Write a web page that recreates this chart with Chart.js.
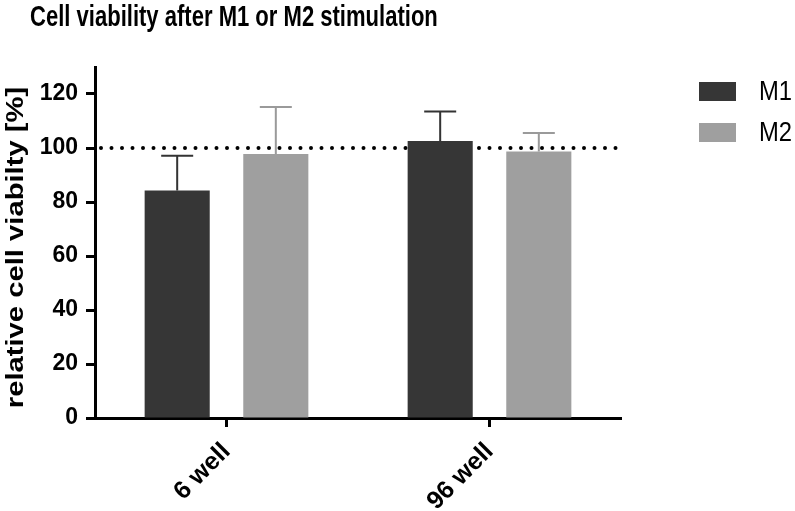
<!DOCTYPE html>
<html>
<head>
<meta charset="utf-8">
<script src="https://cdn.jsdelivr.net/npm/chart.js@4.4.1/dist/chart.umd.min.js"></script>
<style>
  body { margin: 0; background: #fff; }
  canvas { display: block; }
</style>
</head>
<body>
<canvas id="chart1" width="795" height="511"></canvas>
<script>
var categories = ['6 well', '96 well'];
var seriesNames = ['M1', 'M2'];
var m1Values = [84.3, 102.6];
var m1Errors = [12.8, 10.9];
var m2Values = [97.8, 98.7];
var m2Errors = [17.4, 6.9];
var yTicks = [0, 20, 40, 60, 80, 100, 120];
var referenceLine = 100;
var yTitle = 'relative cell viabilty [%]';
var chartTitle = 'Cell viability after M1 or M2 stimulation';

var font = '"Liberation Sans", Arial, sans-serif';

// title, top left (squeezed a little like the original picture)
var titlePlugin = {
    id: 'titleText',
    afterDraw: function(chart) {
        var ctx = chart.ctx;
        ctx.save();
        ctx.fillStyle = '#000';
        ctx.font = 'bold 29px ' + font;
        ctx.textBaseline = 'alphabetic';
        ctx.textAlign = 'left';
        ctx.translate(30, 26);
        ctx.scale(0.76, 1);
        ctx.fillText(chartTitle, 0, 0);
        ctx.restore();

        // y axis title, stretched along its length
        var area = chart.chartArea;
        ctx.save();
        ctx.fillStyle = '#000';
        ctx.font = 'bold 23px ' + font;
        ctx.textAlign = 'center';
        ctx.textBaseline = 'alphabetic';
        ctx.translate(23, (area.top + area.bottom) / 2 + 5);
        ctx.rotate(-Math.PI / 2);
        ctx.scale(1.27, 1);
        ctx.fillText(yTitle, 0, 0);
        ctx.restore();
    }
};

// dotted line at 100 %
var refLinePlugin = {
    id: 'refLine',
    beforeDatasetsDraw: function(chart) {
        var ctx = chart.ctx;
        var y = chart.scales.y.getPixelForValue(referenceLine);
        var area = chart.chartArea;
        ctx.save();
        ctx.strokeStyle = '#000';
        ctx.lineWidth = 4;
        ctx.lineCap = 'round';
        ctx.setLineDash([0, 10.5]);
        ctx.beginPath();
        ctx.moveTo(area.left + 6, y);
        ctx.lineTo(area.right, y);
        ctx.stroke();
        ctx.restore();
    }
};

// upper error bars (SD)
var errorBarPlugin = {
    id: 'errorBars',
    afterDatasetsDraw: function(chart) {
        var ctx = chart.ctx;
        var yScale = chart.scales.y;
        chart.data.datasets.forEach(function(ds, i) {
            var meta = chart.getDatasetMeta(i);
            meta.data.forEach(function(bar, j) {
                var top = yScale.getPixelForValue(ds.data[j] + ds.errors[j]);
                ctx.save();
                ctx.strokeStyle = ds.errorColor;
                ctx.lineWidth = 2;
                ctx.beginPath();
                ctx.moveTo(bar.x, bar.y);
                ctx.lineTo(bar.x, top);
                ctx.moveTo(bar.x - 16, top);
                ctx.lineTo(bar.x + 16, top);
                ctx.stroke();
                ctx.restore();
            });
        });
    }
};

// legend on the right
var legendPlugin = {
    id: 'sideLegend',
    afterDraw: function(chart) {
        var ctx = chart.ctx;
        chart.data.datasets.forEach(function(ds, i) {
            var y = 82 + i * 41;
            ctx.save();
            ctx.fillStyle = ds.backgroundColor;
            ctx.fillRect(699, y, 37, 19);
            ctx.fillStyle = '#000';
            ctx.font = '28px ' + font;
            ctx.textBaseline = 'middle';
            ctx.textAlign = 'left';
            ctx.translate(759, y + 10);
            ctx.scale(0.85, 1);
            ctx.fillText(ds.label, 0, 0);
            ctx.restore();
        });
    }
};

var ctx = document.getElementById('chart1').getContext('2d');
var chart = new Chart(ctx, {
    type: 'bar',
    data: {
        labels: categories,
        datasets: [{
            label: seriesNames[0],
            data: m1Values,
            errors: m1Errors,
            backgroundColor: '#363636',
            errorColor: '#333333',
            barPercentage: 0.66,
            categoryPercentage: 0.75
        }, {
            label: seriesNames[1],
            data: m2Values,
            errors: m2Errors,
            backgroundColor: '#9f9f9f',
            errorColor: '#9a9a9a',
            barPercentage: 0.66,
            categoryPercentage: 0.75
        }]
    },
    options: {
        responsive: false,
        devicePixelRatio: 1,
        animation: false,
        layout: { padding: { top: 67, right: 174, left: 0, bottom: 0 } },
        plugins: {
            legend: { display: false },
            title: { display: false },
            tooltip: { enabled: false }
        },
        scales: {
            x: {
                afterFit: function(s) { s.height = 93; },
                grid: {
                    offset: false,
                    drawOnChartArea: false,
                    drawTicks: true,
                    tickLength: 9,
                    tickWidth: 3,
                    tickColor: '#000'
                },
                border: { color: '#000', width: 3 },
                ticks: {
                    color: '#000',
                    font: { family: font, size: 25, weight: 'bold' },
                    minRotation: 45,
                    maxRotation: 45,
                    padding: 10
                }
            },
            y: {
                min: 0,
                max: 130,
                afterFit: function(s) { s.width = 95; },
                afterBuildTicks: function(s) {
                    s.ticks = yTicks.map(function(v) { return { value: v }; });
                },
                grid: {
                    drawOnChartArea: false,
                    drawTicks: true,
                    tickLength: 9,
                    tickWidth: 3,
                    tickColor: '#000'
                },
                border: { color: '#000', width: 3 },
                ticks: {
                    color: '#000',
                    font: { family: font, size: 23, weight: 'bold' },
                    padding: 8
                }
            }
        }
    },
    plugins: [titlePlugin, refLinePlugin, errorBarPlugin, legendPlugin]
});
</script>
</body>
</html>
